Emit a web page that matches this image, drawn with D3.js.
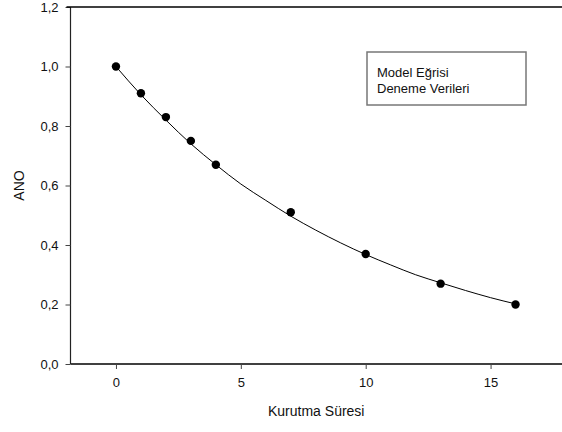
<!DOCTYPE html>
<html>
<head>
<meta charset="utf-8">
<script src="https://cdn.jsdelivr.net/npm/d3@7"></script>
<style>
  html, body { margin: 0; padding: 0; background: #fff; }
  svg { display: block; font-family: "Liberation Sans", Arial, sans-serif; }
</style>
</head>
<body>
<svg id="chart" width="562" height="432"></svg>
<script>
// Drying time (x) and measured moisture ratio (ANO)
const dryingTime = [0, 1, 2, 3, 4, 7, 10, 13, 16];
const anoMeasured = [1.00, 0.91, 0.83, 0.75, 0.67, 0.51, 0.37, 0.27, 0.20];

// Fitted model curve, sampled along the time axis
const modelTime = [0, 1, 2, 3, 4, 5, 6, 7, 8, 9, 10, 11, 12, 13, 14, 15, 16];
const modelAno = [1.00, 0.905, 0.82, 0.74, 0.67, 0.605, 0.55, 0.497, 0.45, 0.407, 0.368, 0.333, 0.30, 0.273, 0.247, 0.223, 0.202];

const xTicks = [0, 5, 10, 15];
const yTicks = [0, 0.2, 0.4, 0.6, 0.8, 1.0, 1.2];
const legendLabels = ["Model Eğrisi", "Deneme Verileri"];
const xTitle = "Kurutma Süresi";
const yTitle = "ANO";

const svg = d3.select("#chart");
const plot = { left: 70.5, right: 562, top: 7, bottom: 364 };

const x = d3.scaleLinear().domain([-1.82, 17.86]).range([plot.left, plot.right]);
const y = d3.scaleLinear().domain([0, 1.2]).range([plot.bottom, plot.top]);

const commaFmt = d => d3.format(".1f")(d).replace(".", ",");

// Bottom axis
const xAxis = svg.append("g")
  .attr("transform", `translate(0,${plot.bottom})`)
  .call(d3.axisBottom(x).tickValues(xTicks).tickSize(5).tickPadding(9).tickFormat(d3.format("d")));
xAxis.select(".domain").attr("stroke", "#000").attr("stroke-width", 1.6)
  .attr("d", `M${plot.left},0H${plot.right}`);
xAxis.selectAll(".tick line").attr("stroke", "#444");
xAxis.selectAll("text").attr("font-size", 13).attr("fill", "#111")
  .attr("font-family", "'Liberation Sans', Arial, sans-serif");

// Left axis
const yAxis = svg.append("g")
  .attr("transform", `translate(${plot.left},0)`)
  .call(d3.axisLeft(y).tickValues(yTicks).tickSize(5).tickPadding(7).tickFormat(commaFmt));
yAxis.select(".domain").attr("stroke", "#222").attr("stroke-width", 1.2)
  .attr("d", `M0,${plot.top}V${plot.bottom}`);
yAxis.selectAll(".tick line").attr("stroke", "#444");
yAxis.selectAll("text").attr("font-size", 13).attr("fill", "#111")
  .attr("font-family", "'Liberation Sans', Arial, sans-serif");

// Top frame line
svg.append("line")
  .attr("x1", plot.left - 4).attr("x2", plot.right)
  .attr("y1", plot.top).attr("y2", plot.top)
  .attr("stroke", "#000").attr("stroke-width", 1.6);

// Model curve
const modelPts = modelTime.map((t, i) => [t, modelAno[i]]);
svg.append("path")
  .datum(modelPts)
  .attr("fill", "none")
  .attr("stroke", "#000")
  .attr("stroke-width", 1)
  .attr("d", d3.line().x(d => x(d[0])).y(d => y(d[1])).curve(d3.curveMonotoneX));

// Measured points
svg.append("g").selectAll("circle")
  .data(dryingTime.map((t, i) => [t, anoMeasured[i]]))
  .join("circle")
  .attr("cx", d => x(d[0]))
  .attr("cy", d => y(d[1]))
  .attr("r", 4.2)
  .attr("fill", "#000");

// Legend box
const legend = svg.append("g");
legend.append("rect")
  .attr("x", 367).attr("y", 52).attr("width", 159).attr("height", 53)
  .attr("fill", "#fff").attr("stroke", "#777").attr("stroke-width", 1.5);
legend.selectAll("text")
  .data(legendLabels)
  .join("text")
  .attr("x", 377)
  .attr("y", (d, i) => 77 + i * 16)
  .attr("font-size", 13)
  .attr("fill", "#111")
  .text(d => d);

// Axis titles
svg.append("text")
  .attr("x", (plot.left + plot.right) / 2)
  .attr("y", 416)
  .attr("text-anchor", "middle")
  .attr("font-size", 14)
  .attr("fill", "#111")
  .text(xTitle);

svg.append("text")
  .attr("transform", `translate(24,${(plot.top + plot.bottom) / 2}) rotate(-90)`)
  .attr("text-anchor", "middle")
  .attr("font-size", 14)
  .attr("fill", "#111")
  .text(yTitle);
</script>
</body>
</html>
